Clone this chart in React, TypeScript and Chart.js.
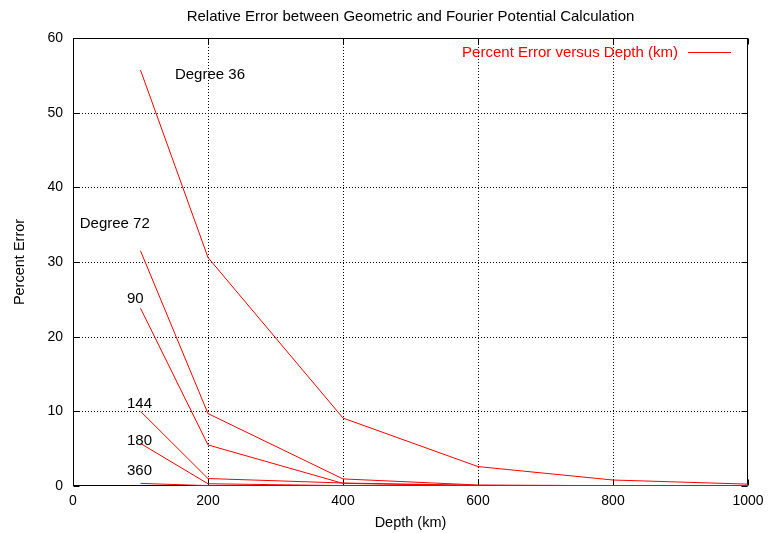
import React, { useEffect, useRef } from "react";
import { Chart, registerables } from "chart.js";

Chart.register(...registerables);

const TITLE = "Relative Error between Geometric and Fourier Potential Calculation";
const X_TITLE = "Depth (km)";
const Y_TITLE = "Percent Error";
const LEGEND_LABEL = "Percent Error versus Depth (km)";

const DEPTHS = [100, 200, 400, 600, 800, 1000];
const DEG36 = [55.7, 30.6, 9.1, 2.6, 0.8, 0.25];
const DEG72 = [31.5, 9.7, 0.95, 0.13, 0.04, 0.01];
const DEG90 = [23.8, 5.5, 0.35, 0.05, 0.01, 0.0];
const DEG144 = [10.0, 1.0, 0.4, 0.08, 0.02, 0.0];
const DEG180 = [5.7, 0.3, 0.05, 0.01, 0.0, 0.0];
const DEG360 = [0.35, 0.05, 0.01, 0.0, 0.0, 0.0];

const CURVE_LABELS = ["Degree 36", "Degree 72", "90", "144", "180", "360"];
const CURVE_LABEL_X = [151, 10, 80, 80, 80, 80];
const CURVE_LABEL_Y = [55.1, 35.1, 25.0, 11.0, 6.0, 2.0];

const X_MIN = 0, X_MAX = 1000, X_STEP = 200;
const Y_MIN = 0, Y_MAX = 60, Y_STEP = 10;

const FONT = '"Liberation Sans", Arial, Helvetica, sans-serif';
const RED = "#ff0000";

function buildPoints() {
  const curves = [DEG36, DEG72, DEG90, DEG144, DEG180, DEG360];
  const pts: { x: number; y: number | null }[] = [];
  curves.forEach((c, ci) => {
    if (ci > 0) pts.push({ x: DEPTHS[0], y: null });
    c.forEach((v, i) => pts.push({ x: DEPTHS[i], y: v }));
  });
  return pts;
}

const decorPlugin = {
  id: "decor",
  beforeDatasetsDraw(chart: any) {
    const { ctx, chartArea: a, scales } = chart;
    const xs = scales.x, ys = scales.y;
    ctx.save();
    ctx.strokeStyle = "#000";
    ctx.lineWidth = 1;
    ctx.setLineDash([1, 2]);
    for (let v = X_MIN + X_STEP; v < X_MAX; v += X_STEP) {
      const px = Math.round(xs.getPixelForValue(v)) + 0.5;
      ctx.beginPath();
      ctx.moveTo(px, a.top);
      ctx.lineTo(px, a.bottom);
      ctx.stroke();
    }
    for (let v = Y_MIN + Y_STEP; v < Y_MAX; v += Y_STEP) {
      const py = Math.round(ys.getPixelForValue(v)) + 0.5;
      ctx.beginPath();
      ctx.moveTo(a.left, py);
      ctx.lineTo(a.right, py);
      ctx.stroke();
    }
    ctx.setLineDash([]);
    const L = Math.round(a.left) + 0.5, R = Math.round(a.right) - 0.5;
    const T = Math.round(a.top) + 0.5, B = Math.round(a.bottom) - 0.5;
    ctx.strokeRect(L, T, R - L, B - T);
    const tl = 6;
    for (let v = X_MIN; v <= X_MAX; v += X_STEP) {
      const px = Math.round(xs.getPixelForValue(v)) + 0.5;
      ctx.beginPath();
      ctx.moveTo(px, B); ctx.lineTo(px, B - tl);
      ctx.moveTo(px, T); ctx.lineTo(px, T + tl);
      ctx.stroke();
    }
    for (let v = Y_MIN; v <= Y_MAX; v += Y_STEP) {
      const py = Math.round(ys.getPixelForValue(v)) + 0.5;
      ctx.beginPath();
      ctx.moveTo(L, py); ctx.lineTo(L + tl, py);
      ctx.moveTo(R, py); ctx.lineTo(R - tl, py);
      ctx.stroke();
    }
    ctx.restore();
  },
  afterDraw(chart: any) {
    const { ctx, chartArea: a, scales } = chart;
    const xs = scales.x, ys = scales.y;
    ctx.save();
    ctx.fillStyle = "#000";
    ctx.textAlign = "center";
    ctx.textBaseline = "middle";
    ctx.font = `15px ${FONT}`;
    ctx.fillText(TITLE, (a.left + a.right) / 2, 17);
    ctx.font = `14.5px ${FONT}`;
    ctx.fillText(X_TITLE, (a.left + a.right) / 2, 523);
    ctx.save();
    ctx.translate(20, (a.top + a.bottom) / 2);
    ctx.rotate(-Math.PI / 2);
    ctx.fillText(Y_TITLE, 0, 0);
    ctx.restore();
    ctx.font = `15px ${FONT}`;
    ctx.textAlign = "left";
    CURVE_LABELS.forEach((t, i) => {
      ctx.fillText(t, xs.getPixelForValue(CURVE_LABEL_X[i]), ys.getPixelForValue(CURVE_LABEL_Y[i]));
    });
    ctx.fillStyle = RED;
    ctx.strokeStyle = RED;
    ctx.textAlign = "right";
    ctx.fillText(LEGEND_LABEL, 678, 53);
    ctx.lineWidth = 1;
    ctx.beginPath();
    ctx.moveTo(688, 52.5);
    ctx.lineTo(731, 52.5);
    ctx.stroke();
    ctx.restore();
  },
};

export default function App() {
  const ref = useRef<HTMLCanvasElement>(null);
  useEffect(() => {
    document.body.style.margin = "0";
    const chart = new Chart(ref.current!, {
      type: "line",
      data: {
        datasets: [
          {
            label: LEGEND_LABEL,
            data: buildPoints() as any,
            borderColor: RED,
            borderWidth: 1,
            pointRadius: 0,
            fill: false,
            tension: 0,
            spanGaps: false,
          },
        ],
      },
      options: {
        responsive: false,
        animation: false,
        layout: { padding: { left: 0, right: 20, top: 38, bottom: 0 } },
        plugins: { legend: { display: false }, tooltip: { enabled: false }, title: { display: false } },
        scales: {
          x: {
            type: "linear",
            min: X_MIN,
            max: X_MAX,
            grid: { display: false, drawTicks: false },
            border: { display: false },
            ticks: {
              stepSize: X_STEP,
              padding: 7,
              color: "#000",
              font: { family: FONT, size: 14 },
              maxRotation: 0,
              callback: (v: any) => String(v),
            },
            afterFit: (s: any) => { s.height = 47; s.paddingRight = 0; s.paddingLeft = 0; },
          },
          y: {
            type: "linear",
            min: Y_MIN,
            max: Y_MAX,
            grid: { display: false, drawTicks: false },
            border: { display: false },
            ticks: { stepSize: Y_STEP, padding: 10, color: "#000", font: { family: FONT, size: 14 }, callback: (v: any) => String(v) },
            afterFit: (s: any) => { s.width = 73; s.paddingTop = 0; s.paddingBottom = 0; },
          },
        },
      },
      plugins: [decorPlugin],
    });
    return () => chart.destroy();
  }, []);
  return <canvas ref={ref} width={768} height={533} style={{ display: "block" }} />;
}
